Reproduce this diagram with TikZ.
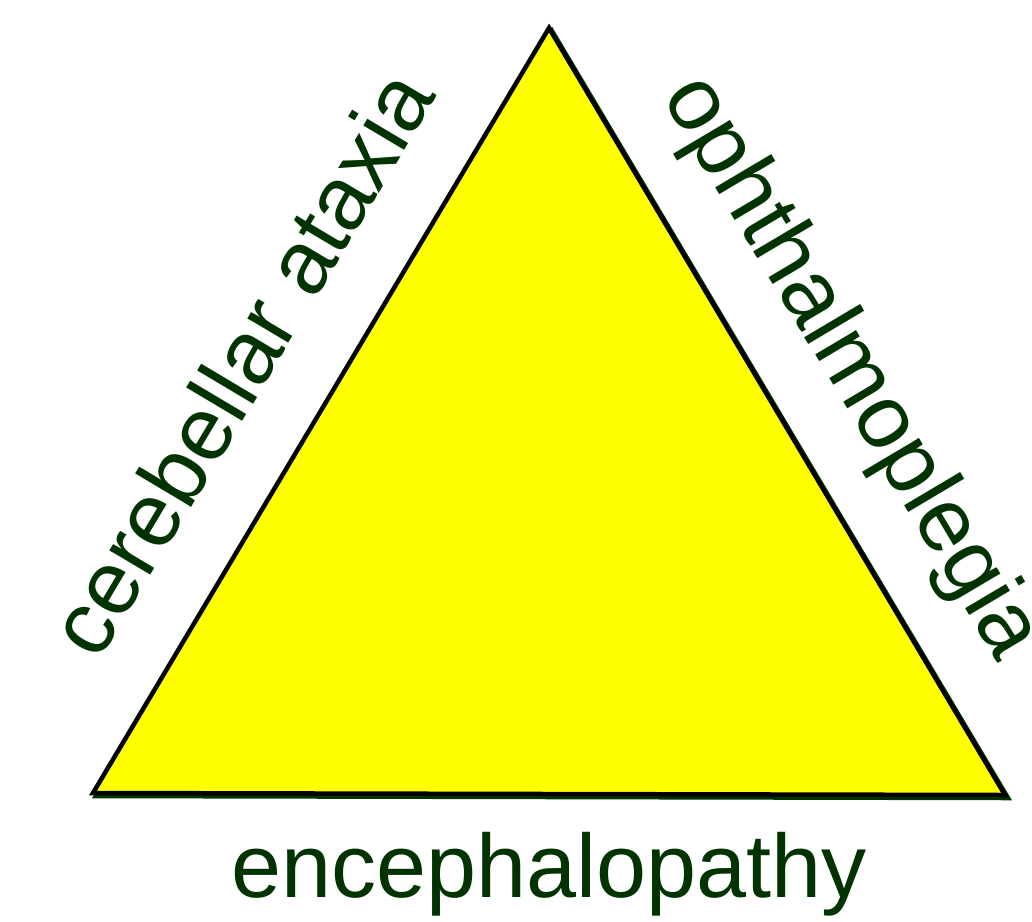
\documentclass[tikz,border=0pt]{standalone}
\usepackage{fontspec}
\setmainfont{Liberation Sans}
\definecolor{labelgreen}{RGB}{0,51,0}
\definecolor{triyellow}{RGB}{255,255,0}
\begin{document}
\begin{tikzpicture}[x=1pt,y=-1pt,
  edge/.style={line width=4.5pt,line join=miter},
  shadowedge/.style={edge,draw=labelgreen},
  lbl/.style={text=labelgreen,inner sep=0pt,font=\fontsize{90}{100}\selectfont,anchor=base}]
\useasboundingbox (0,0) rectangle (1032,921);
\coordinate (A) at (549,28);
\coordinate (B) at (93,793);
\coordinate (C) at (1005,795);
\draw[shadowedge,transform canvas={shift={(3pt,-3pt)}}] (A) -- (B) -- (C) -- cycle;
\filldraw[edge,fill=triyellow,draw=black] (A) -- (B) -- (C) -- cycle;
\node[lbl,rotate=59.2] (ataxia) at (268,379) {cerebellar ataxia};
\node[lbl,rotate=-59.3] (ophth) at (830,380) {ophthalmoplegia};
\node[lbl] (enceph) at (549,897) {encephalopathy};
\end{tikzpicture}
\end{document}
